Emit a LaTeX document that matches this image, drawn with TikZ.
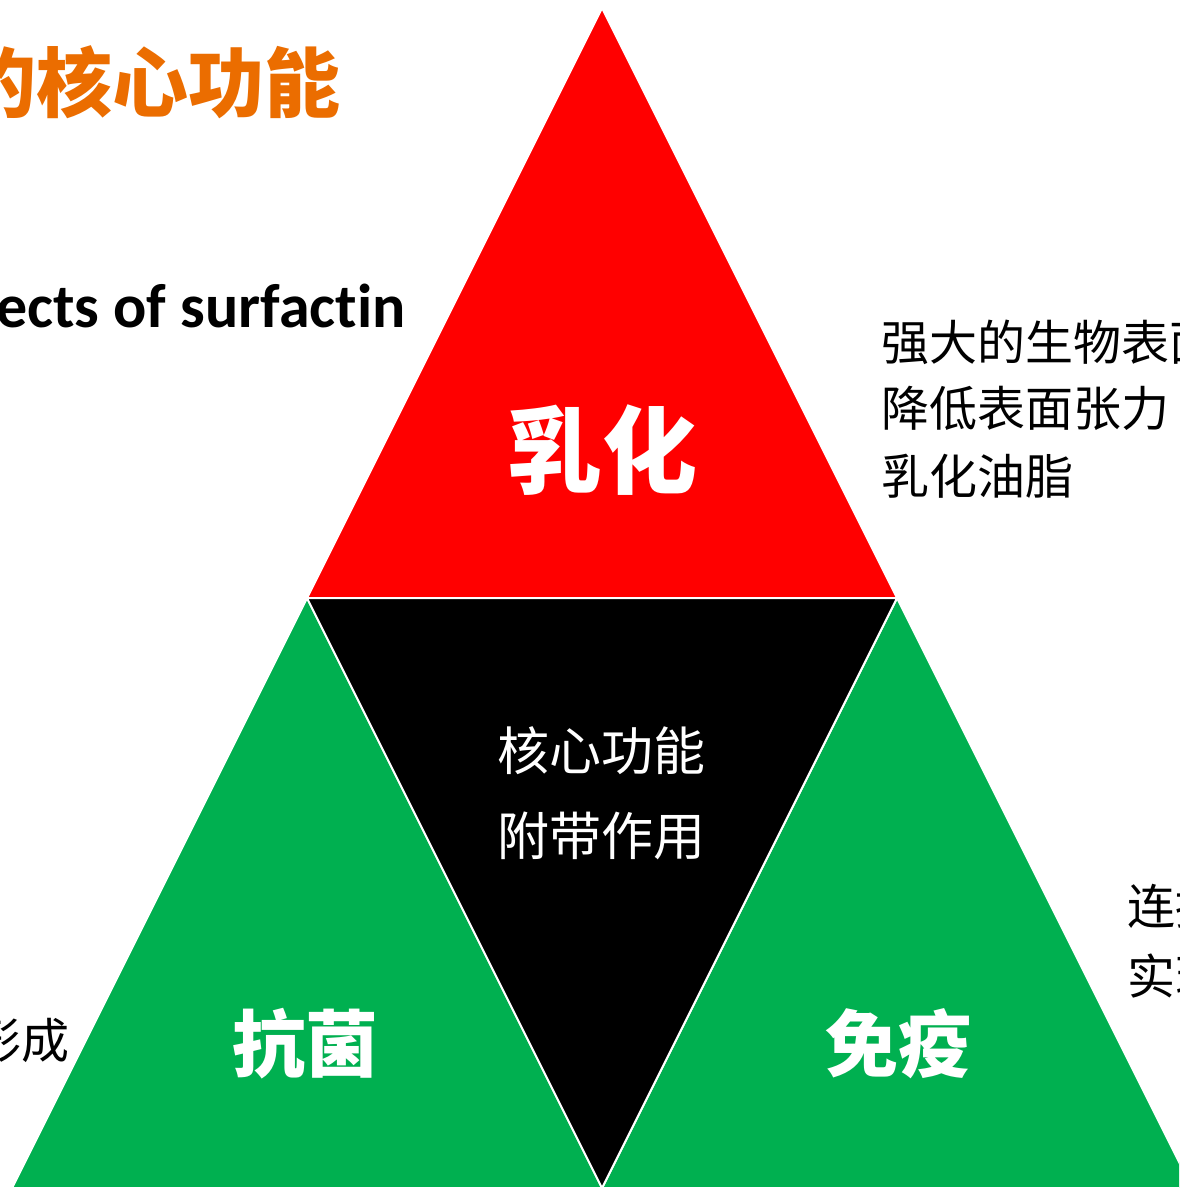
\documentclass[tikz,border=0pt]{standalone}
\usepackage{fontspec}
\setmainfont{Carlito}[Ligatures=NoCommon]
\newfontfamily\cjk{Noto Sans CJK SC}
\definecolor{pptred}{HTML}{FF0000}
\definecolor{pptgreen}{HTML}{00B050}
\definecolor{pptorange}{HTML}{EB6D00}
\begin{document}
\begin{tikzpicture}[x=1pt,y=-1pt,
  tri/.style={draw=white,line width=2pt,line join=miter},
  big/.style={text=white,inner sep=0pt,anchor=base,font=\cjk\bfseries\fontsize{#1}{#1}\selectfont},
  side/.style={inner sep=0pt,anchor=base west,font=\cjk\fontsize{48}{48}\selectfont},
  core/.style={text=white,inner sep=0pt,anchor=base,font=\cjk\fontsize{52}{52}\selectfont}]
\useasboundingbox (0,0) rectangle (1179,1188);
\clip (0,0) rectangle (1179,1188);
\fill[white] (0,0) rectangle (1179,1188);
% triangles
\filldraw[tri,fill=pptred] (602,8) -- (897,598) -- (307,598) -- cycle;
\filldraw[tri,fill=pptgreen] (307,598) -- (602,1188) -- (12,1188) -- cycle;
\filldraw[tri,fill=pptgreen] (897,598) -- (1192,1188) -- (602,1188) -- cycle;
\filldraw[tri,fill=black] (307,598) -- (897,598) -- (602,1188) -- cycle;
% title
\node[inner sep=0pt,anchor=base east,text=pptorange,font=\cjk\bfseries\fontsize{76}{76}\selectfont] (title) at (341,112) {的核心功能};
\node[inner sep=0pt,anchor=base east,font=\bfseries\fontsize{62}{62}\selectfont] (sub) at (406,327) {ects of surfactin};
% triangle labels
\node[big=95] (ruhua) at (602,486) {乳化};
\node[big=73] (kangjun) at (305,1071) {抗菌};
\node[big=73] (mianyi) at (898,1071) {免疫};
\node[core] (c1) at (601,770) {核心功能};
\node[core] (c2) at (601,855) {附带作用};
% side texts
\node[side] (r1) at (881,360) {强大的生物表面};
\node[side] (r2) at (881,426) {降低表面张力};
\node[side] (r3) at (881,494) {乳化油脂};
\node[side] (m1) at (1127,924) {连接};
\node[side] (m2) at (1127,994) {实现};
\node[side,anchor=base east] (l1) at (70,1058) {形成};
\end{tikzpicture}
\end{document}
